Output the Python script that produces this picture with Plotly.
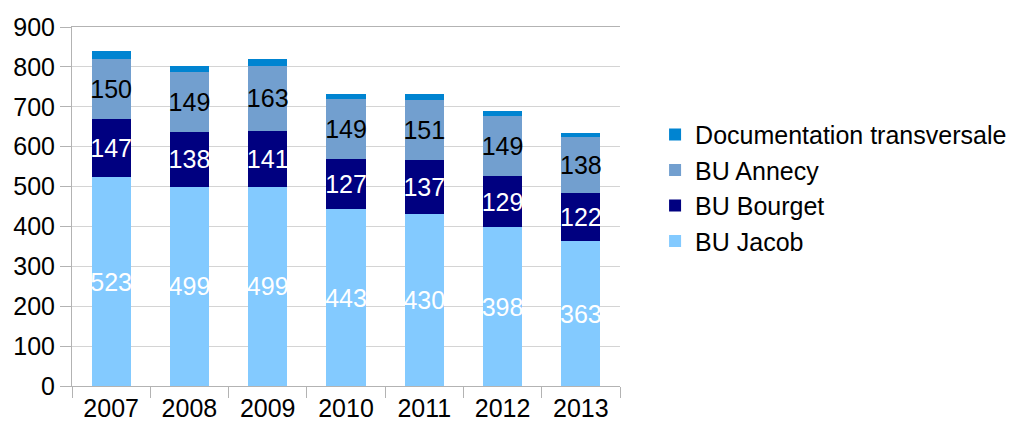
import plotly.graph_objects as go

years = ["2007", "2008", "2009", "2010", "2011", "2012", "2013"]
jacob = [523, 499, 499, 443, 430, 398, 363]
bourget = [147, 138, 141, 127, 137, 129, 122]
annecy = [150, 149, 163, 149, 151, 149, 138]
doc_transv = [21, 15, 17, 14, 15, 14, 12]

series = [
    ("BU Jacob", jacob, "#83caff", "white", True),
    ("BU Bourget", bourget, "#000080", "white", True),
    ("BU Annecy", annecy, "#729fcf", "black", True),
    ("Documentation transversale", doc_transv, "#0084d1", "black", False),
]

fig = go.Figure()
for name, vals, col, tcol, show_text in series:
    fig.add_trace(go.Bar(
        x=years, y=vals, name=name,
        marker=dict(color=col, line=dict(width=0)),
        text=[str(v) for v in vals] if show_text else None,
        textposition="inside" if show_text else "none",
        insidetextanchor="middle",
        textangle=0,
        insidetextfont=dict(color=tcol, size=25),
        legendgroup=name,
    ))

# page body has an 8px margin, so the figure is a bit smaller and shifted
fig.update_layout(
    barmode="stack",
    bargap=0.5,
    width=1010, height=424,
    margin=dict(l=64, r=398, t=19, b=46, autoexpand=False),
    plot_bgcolor="white", paper_bgcolor="white",
    font=dict(family="Liberation Sans, Arial, sans-serif", size=25, color="black"),
    uniformtext=dict(minsize=25, mode="show"),
    legend=dict(
        x=1.064, y=0.552, xanchor="left", yanchor="middle",
        traceorder="reversed", tracegroupgap=11,
        font=dict(size=25),
        itemwidth=30,
    ),
)
fig.update_yaxes(
    range=[0, 900], dtick=100, automargin=False,
    showgrid=True, gridcolor="#d4d4d4", gridwidth=1,
    showline=True, linecolor="#b3b3b3", linewidth=1,
    ticks="outside", ticklen=11, tickcolor="#b3b3b3",
    zeroline=False,
)
fig.update_xaxes(
    automargin=False,
    showline=True, linecolor="#b3b3b3", linewidth=1, mirror=True,
    ticks="outside", ticklen=11, tickcolor="#b3b3b3",
    tickson="boundaries", showgrid=False,
)

fig.write_html("out.html")
